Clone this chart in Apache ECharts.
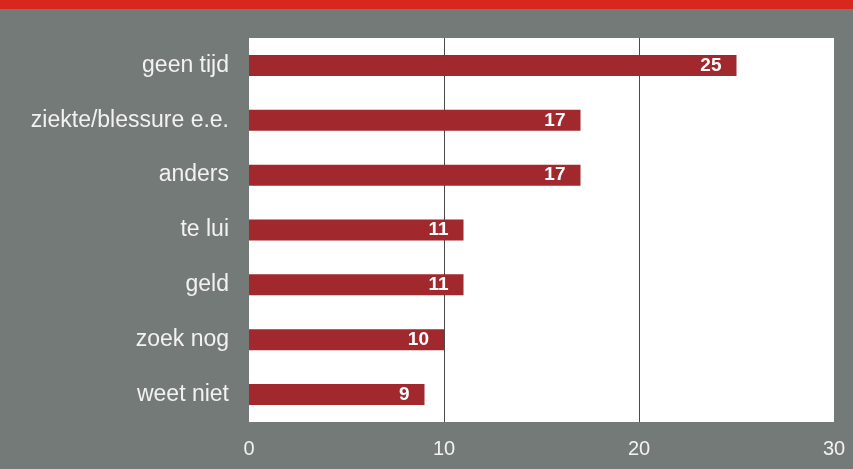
<!DOCTYPE html>
<html>
<head>
<meta charset="utf-8">
<script src="https://cdn.jsdelivr.net/npm/echarts@6/dist/echarts.min.js"></script>
<style>
  html, body { margin: 0; padding: 0; background: #747a78; }
  #chart { width: 853px; height: 469px; }
</style>
</head>
<body>
<div id="chart"></div>
<script>
// Reasons, listed top to bottom
const categories = ['geen tijd', 'ziekte/blessure e.e.', 'anders', 'te lui', 'geld', 'zoek nog', 'weet niet'];
const values = [25, 17, 17, 11, 11, 10, 9];
const xTicks = [0, 10, 20, 30];

const FONT = 'Liberation Sans, Arial, sans-serif';
const chart = echarts.init(document.getElementById('chart'));
chart.setOption({
  backgroundColor: '#747a78',
  animation: false,
  graphic: [{
    type: 'rect',
    left: 0, top: 0,
    shape: { width: 853, height: 9 },
    style: { fill: '#d8281e' }
  }],
  grid: { left: 249, right: 19, top: 38, bottom: 47, containLabel: false,
          show: true, backgroundColor: '#ffffff', borderWidth: 0 },
  xAxis: {
    type: 'value', min: xTicks[0], max: xTicks[xTicks.length - 1], interval: 10,
    axisLine: { show: false }, axisTick: { show: false },
    splitLine: { show: true, lineStyle: { color: ['transparent', '#4a4a4a', '#4a4a4a', 'transparent'], width: 1 } },
    axisLabel: { color: '#f2f2f2', fontSize: 20, fontFamily: FONT, margin: 17 }
  },
  yAxis: {
    type: 'category', data: categories, inverse: true,
    axisLine: { show: false }, axisTick: { show: false },
    axisLabel: { color: '#f2f2f2', fontSize: 23, fontFamily: FONT, margin: 20, padding: [3, 0, 0, 0] }
  },
  series: [{
    type: 'bar', data: values, barWidth: 21,
    itemStyle: { color: '#a1292d' },
    label: { show: true, position: 'insideRight', distance: 15, color: '#ffffff',
             fontWeight: 'bold', fontSize: 19, fontFamily: FONT }
  }]
});
</script>
</body>
</html>
